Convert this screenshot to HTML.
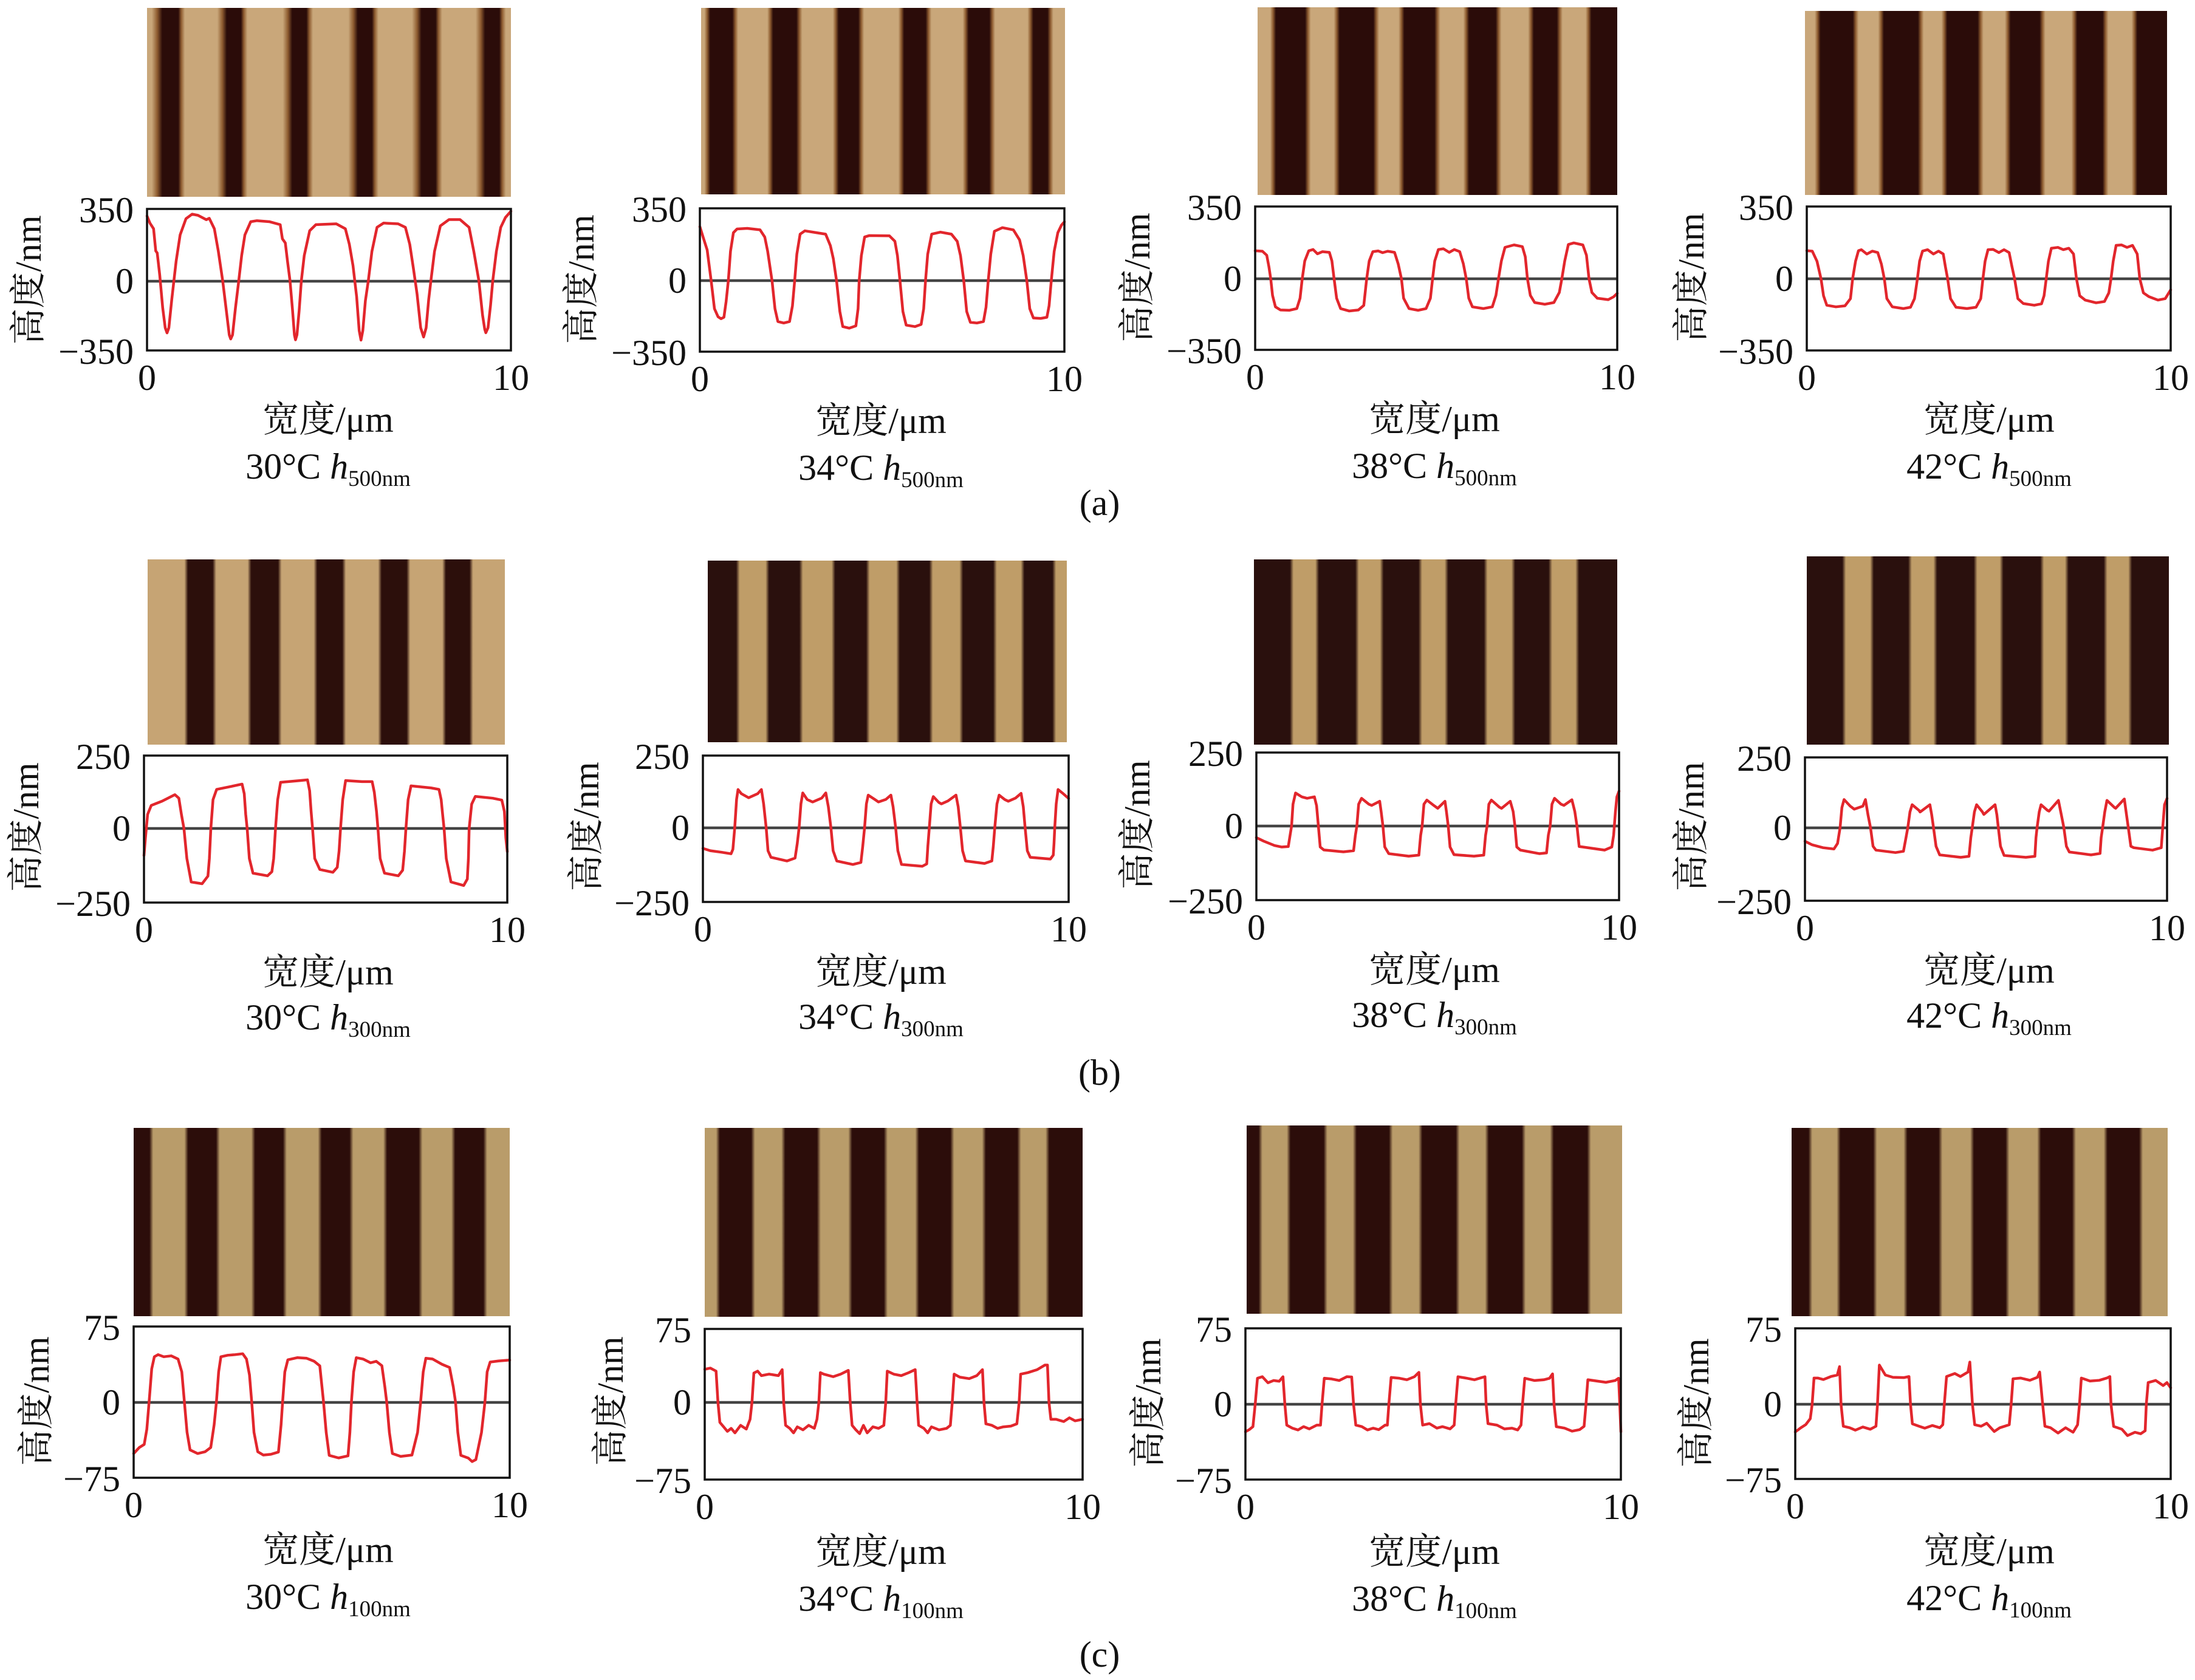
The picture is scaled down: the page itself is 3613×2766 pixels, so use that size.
<!DOCTYPE html>
<html><head><meta charset="utf-8">
<style>
html,body{margin:0;padding:0;background:#fff;overflow:hidden}
svg{display:block}
text{font-family:"Liberation Serif","Noto Serif CJK SC",serif;font-size:60px;fill:#111}
.cv{fill:none;stroke:#e2262c;stroke-width:4.5;vector-effect:non-scaling-stroke;stroke-linejoin:round;stroke-linecap:round}
.z{stroke:#444;stroke-width:4.5}
.bx{fill:none;stroke:#111;stroke-width:3.5}
.La{stop-color:#c9a77a}.Da{stop-color:#2b0c09}.Ea{stop-color:#8e5c30}
.Lb{stop-color:#c6a474}.Db{stop-color:#2c0f0b}
.Lb2{stop-color:#bf9d68}.Db2{stop-color:#2a100d}
.Lc{stop-color:#b99c6a}.Dc{stop-color:#2c0d0a}
</style></head>
<body>
<svg xmlns="http://www.w3.org/2000/svg" width="3613" height="2766" viewBox="0 0 3613 2766">
<defs>
<linearGradient id="ga1" x1="0" x2="1" y1="0" y2="0">
<stop offset="0" class="La"/><stop offset=".013" class="La"/><stop offset=".028" class="Ea"/><stop offset=".042" class="Da"/><stop offset=".086" class="Da"/><stop offset=".094" class="Ea"/><stop offset=".104" class="La"/>
<stop offset=".193" class="La"/><stop offset=".207" class="Ea"/><stop offset=".219" class="Da"/><stop offset=".258" class="Da"/><stop offset=".266" class="Ea"/><stop offset=".276" class="La"/>
<stop offset=".373" class="La"/><stop offset=".387" class="Ea"/><stop offset=".399" class="Da"/><stop offset=".438" class="Da"/><stop offset=".446" class="Ea"/><stop offset=".456" class="La"/>
<stop offset=".553" class="La"/><stop offset=".567" class="Ea"/><stop offset=".579" class="Da"/><stop offset=".618" class="Da"/><stop offset=".626" class="Ea"/><stop offset=".636" class="La"/>
<stop offset=".728" class="La"/><stop offset=".742" class="Ea"/><stop offset=".754" class="Da"/><stop offset=".793" class="Da"/><stop offset=".801" class="Ea"/><stop offset=".811" class="La"/>
<stop offset=".903" class="La"/><stop offset=".917" class="Ea"/><stop offset=".929" class="Da"/><stop offset=".968" class="Da"/><stop offset=".976" class="Ea"/><stop offset=".986" class="La"/><stop offset="1" class="La"/>
</linearGradient>
<linearGradient id="ga2" x1="0" x2="1" y1="0" y2="0">
<stop offset="0" class="La"/><stop offset=".009" class="La"/><stop offset=".017" class="Ea"/><stop offset=".025" class="Da"/><stop offset=".086" class="Da"/><stop offset=".094" class="Ea"/><stop offset=".102" class="La"/><stop offset=".182" class="La"/><stop offset=".19" class="Ea"/><stop offset=".198" class="Da"/><stop offset=".262" class="Da"/><stop offset=".27" class="Ea"/><stop offset=".278" class="La"/><stop offset=".362" class="La"/><stop offset=".37" class="Ea"/><stop offset=".378" class="Da"/><stop offset=".432" class="Da"/><stop offset=".44" class="Ea"/><stop offset=".448" class="La"/><stop offset=".542" class="La"/><stop offset=".55" class="Ea"/><stop offset=".558" class="Da"/><stop offset=".617" class="Da"/><stop offset=".625" class="Ea"/><stop offset=".633" class="La"/><stop offset=".719" class="La"/><stop offset=".727" class="Ea"/><stop offset=".735" class="Da"/><stop offset=".792" class="Da"/><stop offset=".8" class="Ea"/><stop offset=".808" class="La"/><stop offset=".897" class="La"/><stop offset=".905" class="Ea"/><stop offset=".913" class="Da"/><stop offset=".952" class="Da"/><stop offset=".96" class="Ea"/><stop offset=".968" class="La"/><stop offset="1" class="La"/>
</linearGradient>
<linearGradient id="ga3" x1="0" x2="1" y1="0" y2="0">
<stop offset="0" class="La"/><stop offset=".035" class="La"/><stop offset=".043" class="Ea"/><stop offset=".051" class="Da"/><stop offset=".132" class="Da"/><stop offset=".14" class="Ea"/><stop offset=".148" class="La"/><stop offset=".212" class="La"/><stop offset=".22" class="Ea"/><stop offset=".228" class="Da"/><stop offset=".322" class="Da"/><stop offset=".33" class="Ea"/><stop offset=".338" class="La"/><stop offset=".392" class="La"/><stop offset=".4" class="Ea"/><stop offset=".408" class="Da"/><stop offset=".492" class="Da"/><stop offset=".5" class="Ea"/><stop offset=".508" class="La"/><stop offset=".572" class="La"/><stop offset=".58" class="Ea"/><stop offset=".588" class="Da"/><stop offset=".662" class="Da"/><stop offset=".67" class="Ea"/><stop offset=".678" class="La"/><stop offset=".752" class="La"/><stop offset=".76" class="Ea"/><stop offset=".768" class="Da"/><stop offset=".832" class="Da"/><stop offset=".84" class="Ea"/><stop offset=".848" class="La"/><stop offset=".912" class="La"/><stop offset=".92" class="Ea"/><stop offset=".928" class="Da"/><stop offset="1" class="Da"/>
</linearGradient>
<linearGradient id="ga4" x1="0" x2="1" y1="0" y2="0">
<stop offset="0" class="La"/><stop offset=".027" class="La"/><stop offset=".035" class="Ea"/><stop offset=".043" class="Da"/><stop offset=".132" class="Da"/><stop offset=".14" class="Ea"/><stop offset=".148" class="La"/><stop offset=".202" class="La"/><stop offset=".21" class="Ea"/><stop offset=".218" class="Da"/><stop offset=".312" class="Da"/><stop offset=".32" class="Ea"/><stop offset=".328" class="La"/><stop offset=".377" class="La"/><stop offset=".385" class="Ea"/><stop offset=".393" class="Da"/><stop offset=".477" class="Da"/><stop offset=".485" class="Ea"/><stop offset=".493" class="La"/><stop offset=".552" class="La"/><stop offset=".56" class="Ea"/><stop offset=".568" class="Da"/><stop offset=".648" class="Da"/><stop offset=".656" class="Ea"/><stop offset=".664" class="La"/><stop offset=".736" class="La"/><stop offset=".744" class="Ea"/><stop offset=".752" class="Da"/><stop offset=".822" class="Da"/><stop offset=".83" class="Ea"/><stop offset=".838" class="La"/><stop offset=".902" class="La"/><stop offset=".91" class="Ea"/><stop offset=".918" class="Da"/><stop offset="1" class="Da"/>
</linearGradient>
<linearGradient id="gb1" x1="0" x2="1" y1="0" y2="0">
<stop offset="0" class="Lb"/><stop offset=".103" class="Lb"/><stop offset=".113" class="Db"/><stop offset=".182" class="Db"/><stop offset=".192" class="Lb"/><stop offset=".28" class="Lb"/><stop offset=".29" class="Db"/><stop offset=".365" class="Db"/><stop offset=".375" class="Lb"/><stop offset=".465" class="Lb"/><stop offset=".475" class="Db"/><stop offset=".545" class="Db"/><stop offset=".555" class="Lb"/><stop offset=".645" class="Lb"/><stop offset=".655" class="Db"/><stop offset=".725" class="Db"/><stop offset=".735" class="Lb"/><stop offset=".825" class="Lb"/><stop offset=".835" class="Db"/><stop offset=".901" class="Db"/><stop offset=".911" class="Lb"/><stop offset="1" class="Lb"/>
</linearGradient>
<linearGradient id="gb2" x1="0" x2="1" y1="0" y2="0">
<stop offset="0" class="Db2"/><stop offset=".079" class="Db2"/><stop offset=".089" class="Lb2"/><stop offset=".161" class="Lb2"/><stop offset=".171" class="Db2"/><stop offset=".255" class="Db2"/><stop offset=".265" class="Lb2"/><stop offset=".345" class="Lb2"/><stop offset=".355" class="Db2"/><stop offset=".441" class="Db2"/><stop offset=".451" class="Lb2"/><stop offset=".525" class="Lb2"/><stop offset=".535" class="Db2"/><stop offset=".617" class="Db2"/><stop offset=".627" class="Lb2"/><stop offset=".701" class="Lb2"/><stop offset=".711" class="Db2"/><stop offset=".795" class="Db2"/><stop offset=".805" class="Lb2"/><stop offset=".872" class="Lb2"/><stop offset=".882" class="Db2"/><stop offset=".96" class="Db2"/><stop offset=".97" class="Lb2"/><stop offset="1" class="Lb2"/>
</linearGradient>
<linearGradient id="gb3" x1="0" x2="1" y1="0" y2="0">
<stop offset="0" class="Db2"/><stop offset=".099" class="Db2"/><stop offset=".109" class="Lb2"/><stop offset=".169" class="Lb2"/><stop offset=".179" class="Db2"/><stop offset=".279" class="Db2"/><stop offset=".289" class="Lb2"/><stop offset=".347" class="Lb2"/><stop offset=".357" class="Db2"/><stop offset=".453" class="Db2"/><stop offset=".463" class="Lb2"/><stop offset=".525" class="Lb2"/><stop offset=".535" class="Db2"/><stop offset=".633" class="Db2"/><stop offset=".643" class="Lb2"/><stop offset=".709" class="Lb2"/><stop offset=".719" class="Db2"/><stop offset=".811" class="Db2"/><stop offset=".821" class="Lb2"/><stop offset=".885" class="Lb2"/><stop offset=".895" class="Db2"/><stop offset="1" class="Db2"/>
</linearGradient>
<linearGradient id="gb4" x1="0" x2="1" y1="0" y2="0">
<stop offset="0" class="Db2"/><stop offset=".098" class="Db2"/><stop offset=".108" class="Lb2"/><stop offset=".175" class="Lb2"/><stop offset=".185" class="Db2"/><stop offset=".28" class="Db2"/><stop offset=".29" class="Lb2"/><stop offset=".35" class="Lb2"/><stop offset=".36" class="Db2"/><stop offset=".461" class="Db2"/><stop offset=".471" class="Lb2"/><stop offset=".533" class="Lb2"/><stop offset=".543" class="Db2"/><stop offset=".645" class="Db2"/><stop offset=".655" class="Lb2"/><stop offset=".713" class="Lb2"/><stop offset=".723" class="Db2"/><stop offset=".82" class="Db2"/><stop offset=".83" class="Lb2"/><stop offset=".888" class="Lb2"/><stop offset=".898" class="Db2"/><stop offset="1" class="Db2"/>
</linearGradient>
<linearGradient id="gc1" x1="0" x2="1" y1="0" y2="0">
<stop offset="0" class="Dc"/><stop offset=".042" class="Dc"/><stop offset=".052" class="Lc"/><stop offset=".135" class="Lc"/><stop offset=".145" class="Dc"/><stop offset=".219" class="Dc"/><stop offset=".229" class="Lc"/><stop offset=".313" class="Lc"/><stop offset=".323" class="Dc"/><stop offset=".397" class="Dc"/><stop offset=".407" class="Lc"/><stop offset=".49" class="Lc"/><stop offset=".5" class="Dc"/><stop offset=".574" class="Dc"/><stop offset=".584" class="Lc"/><stop offset=".664" class="Lc"/><stop offset=".674" class="Dc"/><stop offset=".758" class="Dc"/><stop offset=".768" class="Lc"/><stop offset=".845" class="Lc"/><stop offset=".855" class="Dc"/><stop offset=".93" class="Dc"/><stop offset=".94" class="Lc"/><stop offset="1" class="Lc"/>
</linearGradient>
<linearGradient id="gc2" x1="0" x2="1" y1="0" y2="0">
<stop offset="0" class="Lc"/><stop offset=".03" class="Lc"/><stop offset=".04" class="Dc"/><stop offset=".123" class="Dc"/><stop offset=".133" class="Lc"/><stop offset=".203" class="Lc"/><stop offset=".213" class="Dc"/><stop offset=".297" class="Dc"/><stop offset=".307" class="Lc"/><stop offset=".38" class="Lc"/><stop offset=".39" class="Dc"/><stop offset=".474" class="Dc"/><stop offset=".484" class="Lc"/><stop offset=".557" class="Lc"/><stop offset=".567" class="Dc"/><stop offset=".65" class="Dc"/><stop offset=".66" class="Lc"/><stop offset=".734" class="Lc"/><stop offset=".744" class="Dc"/><stop offset=".827" class="Dc"/><stop offset=".837" class="Lc"/><stop offset=".902" class="Lc"/><stop offset=".912" class="Dc"/><stop offset="1" class="Dc"/>
</linearGradient>
<linearGradient id="gc3" x1="0" x2="1" y1="0" y2="0">
<stop offset="0" class="Dc"/><stop offset=".032" class="Dc"/><stop offset=".042" class="Lc"/><stop offset=".107" class="Lc"/><stop offset=".117" class="Dc"/><stop offset=".205" class="Dc"/><stop offset=".215" class="Lc"/><stop offset=".283" class="Lc"/><stop offset=".293" class="Dc"/><stop offset=".379" class="Dc"/><stop offset=".389" class="Lc"/><stop offset=".458" class="Lc"/><stop offset=".468" class="Dc"/><stop offset=".557" class="Dc"/><stop offset=".567" class="Lc"/><stop offset=".635" class="Lc"/><stop offset=".645" class="Dc"/><stop offset=".733" class="Dc"/><stop offset=".743" class="Lc"/><stop offset=".808" class="Lc"/><stop offset=".818" class="Dc"/><stop offset=".907" class="Dc"/><stop offset=".917" class="Lc"/><stop offset="1" class="Lc"/>
</linearGradient>
<linearGradient id="gc4" x1="0" x2="1" y1="0" y2="0">
<stop offset="0" class="Dc"/><stop offset=".045" class="Dc"/><stop offset=".055" class="Lc"/><stop offset=".12" class="Lc"/><stop offset=".13" class="Dc"/><stop offset=".217" class="Dc"/><stop offset=".227" class="Lc"/><stop offset=".298" class="Lc"/><stop offset=".308" class="Dc"/><stop offset=".391" class="Dc"/><stop offset=".401" class="Lc"/><stop offset=".475" class="Lc"/><stop offset=".485" class="Dc"/><stop offset=".569" class="Dc"/><stop offset=".579" class="Lc"/><stop offset=".653" class="Lc"/><stop offset=".663" class="Dc"/><stop offset=".746" class="Dc"/><stop offset=".756" class="Lc"/><stop offset=".83" class="Lc"/><stop offset=".84" class="Dc"/><stop offset=".924" class="Dc"/><stop offset=".934" class="Lc"/><stop offset="1" class="Lc"/>
</linearGradient>
</defs>

<!-- ================= ROW A ================= -->
<rect x="242" y="13" width="599" height="311" fill="url(#ga1)"/>
<line class="z" x1="242" x2="841" y1="463" y2="463"/>
<path class="cv" transform="translate(242,344) scale(0.599,0.233)" d="M0,50 L8,100 L18,140 L24,297 L28,311 L35,469 L43,697 L50,840 L55,876 L60,840 L68,640 L80,369 L91,183 L107,69 L124,37 L140,45 L152,61 L163,76 L171,66 L185,140 L196,300 L208,509 L218,720 L226,890 L230,919 L235,890 L243,700 L252,509 L260,330 L269,183 L285,90 L302,83 L336,90 L366,111 L372,211 L380,240 L386,369 L393,509 L400,720 L405,890 L408,925 L412,890 L418,720 L424,509 L432,330 L447,154 L464,111 L520,105 L545,140 L556,250 L566,400 L576,620 L583,860 L588,927 L593,860 L600,650 L608,509 L618,300 L632,130 L650,100 L690,105 L710,130 L722,250 L732,420 L742,600 L752,840 L760,905 L767,840 L774,640 L780,509 L790,300 L806,120 L830,75 L860,75 L885,130 L898,300 L912,509 L922,750 L928,850 L931,875 L937,840 L944,680 L950,509 L960,300 L972,130 L985,60 L1000,16"/>
<rect class="bx" x="242" y="344" width="599" height="233"/>
<text x="220" y="366" text-anchor="end">350</text>
<text x="220" y="483" text-anchor="end">0</text>
<text x="220" y="599" text-anchor="end">−350</text>
<text x="242" y="642" text-anchor="middle">0</text>
<text x="841" y="642" text-anchor="middle">10</text>
<text x="540" y="711" text-anchor="middle">宽度/μm</text>
<text x="540" y="788" text-anchor="middle">30°C <tspan font-style="italic">h</tspan><tspan font-size="37" dy="12">500nm</tspan></text>
<text transform="translate(47,461) rotate(-90)" text-anchor="middle" dominant-baseline="central">高度/nm</text>

<rect x="1154" y="13" width="599" height="307" fill="url(#ga2)"/>
<line class="z" x1="1152" x2="1752" y1="462" y2="462"/>
<path class="cv" transform="translate(1152,343) scale(0.6,0.236)" d="M0,128 L10,210 L20,290 L31,506 L40,700 L50,757 L58,770 L66,760 L72,650 L78,506 L84,300 L92,170 L102,144 L130,140 L165,150 L178,200 L186,300 L198,506 L206,700 L214,790 L230,800 L246,790 L254,680 L260,506 L266,320 L275,180 L288,157 L320,170 L345,180 L358,260 L366,350 L375,506 L384,720 L392,825 L410,836 L428,820 L434,700 L437,506 L443,330 L452,200 L465,190 L520,192 L535,230 L542,330 L549,506 L557,720 L566,815 L590,825 L607,810 L614,700 L619,506 L625,320 L636,180 L660,166 L690,180 L706,230 L715,330 L724,506 L732,720 L742,795 L760,800 L778,790 L785,690 L791,506 L798,320 L808,160 L830,135 L860,150 L877,220 L887,330 L897,506 L905,700 L915,765 L935,768 L952,760 L958,680 L964,506 L972,300 L982,170 L992,117 L1000,94"/>
<rect class="bx" x="1152" y="343" width="600" height="236"/>
<text x="1130" y="365" text-anchor="end">350</text>
<text x="1130" y="482" text-anchor="end">0</text>
<text x="1130" y="601" text-anchor="end">−350</text>
<text x="1152" y="644" text-anchor="middle">0</text>
<text x="1752" y="644" text-anchor="middle">10</text>
<text x="1450" y="713" text-anchor="middle">宽度/μm</text>
<text x="1450" y="790" text-anchor="middle">34°C <tspan font-style="italic">h</tspan><tspan font-size="37" dy="12">500nm</tspan></text>
<text transform="translate(957,460) rotate(-90)" text-anchor="middle" dominant-baseline="central">高度/nm</text>

<rect x="2070" y="12" width="592" height="309" fill="url(#ga3)"/>
<line class="z" x1="2066" x2="2662" y1="459" y2="459"/>
<path class="cv" transform="translate(2066,340) scale(0.596,0.236)" d="M0,309 L20,312 L32,340 L38,420 L43,504 L48,620 L56,700 L70,722 L95,724 L115,712 L124,640 L130,504 L137,380 L148,309 L160,300 L172,330 L186,315 L205,320 L212,380 L218,504 L225,640 L236,712 L260,729 L285,722 L300,690 L308,504 L315,380 L325,315 L340,310 L352,322 L366,312 L385,320 L395,400 L404,504 L410,640 L425,712 L450,724 L472,712 L484,640 L490,504 L496,380 L506,300 L520,295 L536,320 L550,300 L565,315 L575,400 L583,504 L590,640 L600,700 L630,712 L655,700 L665,620 L672,504 L680,380 L690,285 L715,268 L738,280 L746,350 L752,504 L760,620 L772,670 L800,682 L825,670 L840,600 L847,504 L855,380 L865,265 L880,254 L905,268 L915,340 L922,504 L930,600 L945,640 L975,650 L990,630 L1000,606"/>
<rect class="bx" x="2066" y="340" width="596" height="236"/>
<text x="2044" y="362" text-anchor="end">350</text>
<text x="2044" y="479" text-anchor="end">0</text>
<text x="2044" y="598" text-anchor="end">−350</text>
<text x="2066" y="641" text-anchor="middle">0</text>
<text x="2662" y="641" text-anchor="middle">10</text>
<text x="2361" y="710" text-anchor="middle">宽度/μm</text>
<text x="2361" y="787" text-anchor="middle">38°C <tspan font-style="italic">h</tspan><tspan font-size="37" dy="12">500nm</tspan></text>
<text transform="translate(1872,457) rotate(-90)" text-anchor="middle" dominant-baseline="central">高度/nm</text>

<rect x="2971" y="18" width="596" height="303" fill="url(#ga4)"/>
<line class="z" x1="2974" x2="3573" y1="459" y2="459"/>
<path class="cv" transform="translate(2974,340) scale(0.599,0.237)" d="M0,307 L15,310 L28,380 L39,501 L46,620 L55,686 L80,697 L105,690 L120,640 L126,501 L134,380 L142,307 L150,300 L165,330 L180,310 L195,320 L205,400 L213,501 L220,640 L235,697 L265,709 L285,700 L296,640 L304,501 L310,380 L318,310 L332,300 L348,330 L362,310 L375,330 L381,420 L387,501 L395,640 L410,700 L440,709 L465,700 L478,640 L484,501 L490,380 L498,300 L512,298 L528,320 L542,300 L556,320 L564,420 L571,501 L580,640 L595,674 L625,686 L645,676 L652,620 L658,501 L664,380 L672,290 L690,284 L705,300 L720,290 L733,330 L741,501 L750,620 L765,650 L795,669 L818,660 L830,600 L836,501 L842,380 L850,270 L865,267 L880,284 L895,270 L908,330 L915,501 L925,600 L940,626 L965,650 L985,640 L1000,579"/>
<rect class="bx" x="2974" y="340" width="599" height="237"/>
<text x="2952" y="362" text-anchor="end">350</text>
<text x="2952" y="479" text-anchor="end">0</text>
<text x="2952" y="599" text-anchor="end">−350</text>
<text x="2974" y="642" text-anchor="middle">0</text>
<text x="3573" y="642" text-anchor="middle">10</text>
<text x="3274" y="711" text-anchor="middle">宽度/μm</text>
<text x="3274" y="788" text-anchor="middle">42°C <tspan font-style="italic">h</tspan><tspan font-size="37" dy="12">500nm</tspan></text>
<text transform="translate(2784,457) rotate(-90)" text-anchor="middle" dominant-baseline="central">高度/nm</text>

<text x="1810" y="848" text-anchor="middle">(a)</text>

<!-- ================= ROW B ================= -->
<rect x="243" y="921" width="588" height="305" fill="url(#gb1)"/>
<line class="z" x1="237" x2="835" y1="1364" y2="1364"/>
<path class="cv" transform="translate(237,1244) scale(0.598,0.242)" d="M0,680 L4,560 L10,400 L20,339 L50,310 L85,266 L96,290 L103,400 L110,496 L118,700 L130,860 L160,872 L176,820 L180,700 L184,496 L190,300 L200,230 L240,210 L270,194 L276,260 L280,400 L284,496 L290,700 L300,800 L340,818 L352,790 L357,700 L362,496 L368,300 L376,182 L430,170 L450,165 L456,240 L460,380 L464,496 L470,700 L484,775 L520,794 L532,760 L537,650 L541,496 L547,300 L555,170 L600,177 L628,177 L634,250 L640,380 L644,496 L650,700 L662,800 L700,818 L712,780 L717,650 L721,496 L727,300 L735,206 L790,220 L812,230 L818,300 L822,400 L826,496 L832,700 L845,860 L880,884 L890,840 L893,700 L895,496 L902,330 L912,278 L960,290 L985,303 L992,380 L996,560 L1000,654"/>
<rect class="bx" x="237" y="1244" width="598" height="242"/>
<text x="215" y="1266" text-anchor="end">250</text>
<text x="215" y="1384" text-anchor="end">0</text>
<text x="215" y="1508" text-anchor="end">−250</text>
<text x="237" y="1551" text-anchor="middle">0</text>
<text x="835" y="1551" text-anchor="middle">10</text>
<text x="540" y="1621" text-anchor="middle">宽度/μm</text>
<text x="540" y="1695" text-anchor="middle">30°C <tspan font-style="italic">h</tspan><tspan font-size="37" dy="12">300nm</tspan></text>
<text transform="translate(43,1362) rotate(-90)" text-anchor="middle" dominant-baseline="central">高度/nm</text>

<rect x="1165" y="923" width="591" height="299" fill="url(#gb2)"/>
<line class="z" x1="1157" x2="1759" y1="1363" y2="1363"/>
<path class="cv" transform="translate(1157,1244) scale(0.602,0.241)" d="M0,634 L20,650 L50,660 L77,671 L82,640 L87,493 L92,300 L96,232 L105,260 L125,288 L150,260 L160,232 L166,330 L173,493 L178,650 L186,695 L230,720 L252,700 L258,600 L263,493 L268,330 L273,255 L285,300 L300,317 L325,290 L336,255 L343,350 L350,493 L356,650 L366,720 L410,744 L432,730 L437,620 L442,493 L447,330 L452,270 L470,300 L480,317 L500,300 L514,270 L520,350 L527,493 L533,650 L543,744 L600,756 L612,740 L615,620 L619,493 L624,330 L630,280 L645,320 L652,330 L670,310 L692,270 L698,350 L704,493 L710,650 L718,720 L770,737 L790,720 L794,620 L798,493 L804,330 L810,270 L825,300 L835,312 L855,290 L870,258 L876,350 L881,493 L887,650 L895,695 L950,707 L958,680 L960,600 L962,493 L966,330 L971,232 L985,260 L1000,293"/>
<rect class="bx" x="1157" y="1244" width="602" height="241"/>
<text x="1135" y="1266" text-anchor="end">250</text>
<text x="1135" y="1383" text-anchor="end">0</text>
<text x="1135" y="1507" text-anchor="end">−250</text>
<text x="1157" y="1550" text-anchor="middle">0</text>
<text x="1759" y="1550" text-anchor="middle">10</text>
<text x="1450" y="1620" text-anchor="middle">宽度/μm</text>
<text x="1450" y="1694" text-anchor="middle">34°C <tspan font-style="italic">h</tspan><tspan font-size="37" dy="12">300nm</tspan></text>
<text transform="translate(965,1361) rotate(-90)" text-anchor="middle" dominant-baseline="central">高度/nm</text>

<rect x="2064" y="921" width="598" height="305" fill="url(#gb3)"/>
<line class="z" x1="2068" x2="2665" y1="1360" y2="1360"/>
<path class="cv" transform="translate(2068,1239) scale(0.597,0.243)" d="M0,576 L20,600 L50,630 L70,640 L88,637 L93,560 L97,499 L101,350 L108,274 L125,300 L140,310 L160,300 L166,360 L171,499 L176,640 L186,660 L240,673 L268,665 L273,560 L277,499 L282,350 L290,310 L310,350 L318,358 L340,330 L344,400 L349,499 L354,640 L365,685 L420,702 L448,695 L453,560 L457,499 L462,350 L470,322 L490,360 L500,378 L520,330 L524,400 L529,499 L534,640 L545,692 L600,702 L627,695 L632,560 L636,499 L641,350 L648,322 L670,370 L676,378 L700,330 L708,400 L713,499 L718,640 L728,661 L780,685 L800,680 L805,560 L810,499 L815,350 L822,310 L840,350 L848,358 L870,320 L878,400 L884,499 L890,637 L900,640 L960,661 L980,640 L985,560 L990,400 L994,300 L1000,261"/>
<rect class="bx" x="2068" y="1239" width="597" height="243"/>
<text x="2046" y="1261" text-anchor="end">250</text>
<text x="2046" y="1380" text-anchor="end">0</text>
<text x="2046" y="1504" text-anchor="end">−250</text>
<text x="2068" y="1547" text-anchor="middle">0</text>
<text x="2665" y="1547" text-anchor="middle">10</text>
<text x="2361" y="1617" text-anchor="middle">宽度/μm</text>
<text x="2361" y="1691" text-anchor="middle">38°C <tspan font-style="italic">h</tspan><tspan font-size="37" dy="12">300nm</tspan></text>
<text transform="translate(1872,1358) rotate(-90)" text-anchor="middle" dominant-baseline="central">高度/nm</text>

<rect x="2974" y="916" width="596" height="310" fill="url(#gb4)"/>
<line class="z" x1="2971" x2="3567" y1="1363" y2="1363"/>
<path class="cv" transform="translate(2971,1247) scale(0.596,0.236)" d="M0,585 L20,610 L50,630 L80,639 L90,600 L97,490 L102,350 L108,294 L125,340 L136,361 L160,340 L167,294 L174,400 L181,490 L188,620 L196,647 L250,664 L272,655 L279,560 L284,490 L290,380 L296,330 L315,370 L318,381 L345,330 L350,400 L355,490 L362,620 L372,680 L430,697 L453,690 L458,560 L462,490 L468,380 L474,330 L490,380 L494,398 L525,330 L530,400 L534,490 L540,620 L550,684 L610,697 L635,690 L638,560 L641,490 L647,380 L652,330 L670,370 L674,375 L700,300 L708,400 L715,490 L722,620 L730,660 L790,680 L815,670 L818,560 L822,490 L828,380 L834,300 L855,350 L858,355 L882,290 L888,400 L893,490 L900,620 L908,630 L960,647 L984,630 L988,490 L993,330 L1000,286"/>
<rect class="bx" x="2971" y="1247" width="596" height="236"/>
<text x="2949" y="1269" text-anchor="end">250</text>
<text x="2949" y="1383" text-anchor="end">0</text>
<text x="2949" y="1505" text-anchor="end">−250</text>
<text x="2971" y="1548" text-anchor="middle">0</text>
<text x="3567" y="1548" text-anchor="middle">10</text>
<text x="3274" y="1618" text-anchor="middle">宽度/μm</text>
<text x="3274" y="1692" text-anchor="middle">42°C <tspan font-style="italic">h</tspan><tspan font-size="37" dy="12">300nm</tspan></text>
<text transform="translate(2784,1361) rotate(-90)" text-anchor="middle" dominant-baseline="central">高度/nm</text>

<text x="1810" y="1786" text-anchor="middle">(b)</text>

<!-- ================= ROW C ================= -->
<rect x="220" y="1857" width="619" height="310" fill="url(#gc1)"/>
<line class="z" x1="220" x2="839" y1="2309" y2="2309"/>
<path class="cv" transform="translate(220,2184) scale(0.619,0.249)" d="M0,840 L15,800 L28,780 L35,680 L41,501 L48,280 L55,200 L65,186 L80,200 L100,194 L118,215 L128,300 L135,501 L142,700 L150,816 L170,840 L190,828 L205,800 L214,650 L220,501 L226,300 L232,200 L250,190 L270,186 L290,180 L300,215 L308,320 L314,501 L320,700 L330,828 L345,850 L365,845 L385,830 L392,650 L396,501 L402,300 L410,220 L435,206 L460,210 L480,230 L495,260 L505,501 L512,700 L520,852 L545,869 L570,855 L575,700 L579,501 L585,300 L592,206 L610,215 L630,240 L645,230 L660,259 L668,400 L673,501 L680,700 L688,840 L710,859 L740,850 L755,700 L763,501 L770,300 L777,210 L795,215 L820,250 L840,271 L850,400 L856,501 L862,700 L870,852 L890,870 L900,893 L910,880 L925,700 L934,501 L940,300 L948,235 L970,228 L1000,222"/>
<rect class="bx" x="220" y="2184" width="619" height="249"/>
<text x="198" y="2206" text-anchor="end">75</text>
<text x="198" y="2329" text-anchor="end">0</text>
<text x="198" y="2455" text-anchor="end">−75</text>
<text x="220" y="2498" text-anchor="middle">0</text>
<text x="839" y="2498" text-anchor="middle">10</text>
<text x="540" y="2572" text-anchor="middle">宽度/μm</text>
<text x="540" y="2649" text-anchor="middle">30°C <tspan font-style="italic">h</tspan><tspan font-size="37" dy="12">100nm</tspan></text>
<text transform="translate(60,2307) rotate(-90)" text-anchor="middle" dominant-baseline="central">高度/nm</text>

<rect x="1160" y="1857" width="622" height="311" fill="url(#gc2)"/>
<line class="z" x1="1160" x2="1782" y1="2309" y2="2309"/>
<path class="cv" transform="translate(1160,2188) scale(0.622,0.248)" d="M0,268 L15,260 L30,280 L35,488 L40,620 L50,650 L60,680 L70,660 L80,690 L95,640 L110,665 L120,600 L125,488 L130,293 L140,280 L150,310 L170,300 L195,310 L205,270 L209,488 L214,640 L225,660 L235,690 L245,650 L260,670 L275,640 L290,660 L297,600 L302,488 L306,290 L315,300 L340,317 L360,300 L380,275 L385,488 L390,640 L400,670 L410,695 L420,640 L430,690 L445,650 L460,660 L474,640 L479,488 L483,280 L500,300 L520,310 L540,290 L557,270 L562,488 L566,640 L580,660 L590,690 L600,650 L620,670 L640,660 L650,640 L655,488 L660,300 L675,320 L700,330 L720,310 L735,270 L739,488 L744,630 L760,640 L775,660 L790,650 L810,645 L826,630 L832,488 L836,300 L855,290 L880,270 L900,240 L907,240 L911,488 L916,600 L930,600 L950,615 L965,590 L980,610 L1000,600"/>
<rect class="bx" x="1160" y="2188" width="622" height="248"/>
<text x="1138" y="2210" text-anchor="end">75</text>
<text x="1138" y="2329" text-anchor="end">0</text>
<text x="1138" y="2458" text-anchor="end">−75</text>
<text x="1160" y="2501" text-anchor="middle">0</text>
<text x="1782" y="2501" text-anchor="middle">10</text>
<text x="1450" y="2575" text-anchor="middle">宽度/μm</text>
<text x="1450" y="2652" text-anchor="middle">34°C <tspan font-style="italic">h</tspan><tspan font-size="37" dy="12">100nm</tspan></text>
<text transform="translate(1005,2307) rotate(-90)" text-anchor="middle" dominant-baseline="central">高度/nm</text>

<rect x="2052" y="1853" width="618" height="310" fill="url(#gc3)"/>
<line class="z" x1="2050" x2="2668" y1="2312" y2="2312"/>
<path class="cv" transform="translate(2050,2187) scale(0.618,0.249)" d="M0,684 L10,670 L20,650 L26,502 L32,330 L45,320 L60,360 L75,345 L90,350 L100,320 L105,502 L110,640 L125,660 L140,672 L155,650 L170,665 L190,640 L200,640 L204,502 L210,330 L230,335 L250,345 L270,320 L283,322 L288,502 L294,640 L310,650 L325,672 L340,660 L355,670 L372,640 L378,640 L382,502 L388,325 L410,330 L430,340 L450,320 L462,291 L466,502 L472,640 L490,630 L510,660 L525,650 L545,665 L556,640 L560,502 L566,320 L590,330 L610,340 L630,325 L638,320 L641,502 L646,630 L670,640 L690,665 L710,660 L725,672 L734,640 L738,502 L744,330 L770,345 L795,340 L810,330 L818,301 L822,502 L828,650 L850,660 L870,680 L890,670 L902,648 L907,502 L912,340 L940,350 L960,357 L985,345 L994,330 L997,500 L1000,684"/>
<rect class="bx" x="2050" y="2187" width="618" height="249"/>
<text x="2028" y="2209" text-anchor="end">75</text>
<text x="2028" y="2332" text-anchor="end">0</text>
<text x="2028" y="2458" text-anchor="end">−75</text>
<text x="2050" y="2501" text-anchor="middle">0</text>
<text x="2668" y="2501" text-anchor="middle">10</text>
<text x="2361" y="2575" text-anchor="middle">宽度/μm</text>
<text x="2361" y="2652" text-anchor="middle">38°C <tspan font-style="italic">h</tspan><tspan font-size="37" dy="12">100nm</tspan></text>
<text transform="translate(1890,2310) rotate(-90)" text-anchor="middle" dominant-baseline="central">高度/nm</text>

<rect x="2949" y="1857" width="619" height="310" fill="url(#gc4)"/>
<line class="z" x1="2955" x2="3573" y1="2312" y2="2312"/>
<path class="cv" transform="translate(2955,2187) scale(0.618,0.248)" d="M0,688 L15,660 L28,639 L40,600 L45,505 L50,330 L60,330 L75,340 L95,320 L112,310 L118,254 L122,505 L128,650 L145,660 L160,676 L180,655 L200,670 L215,650 L219,505 L224,244 L240,310 L260,325 L290,327 L303,320 L307,505 L312,634 L330,650 L345,663 L365,645 L385,660 L393,640 L397,505 L403,320 L425,300 L440,320 L460,290 L465,224 L472,505 L478,640 L495,650 L510,630 L530,685 L545,660 L570,640 L575,505 L580,335 L600,330 L625,345 L645,325 L651,290 L659,505 L665,650 L680,660 L700,695 L720,660 L740,690 L752,640 L757,505 L762,330 L785,350 L810,345 L830,330 L838,320 L841,505 L848,651 L870,670 L885,712 L905,690 L920,700 L932,680 L935,505 L940,360 L960,346 L980,380 L990,360 L1000,395"/>
<rect class="bx" x="2955" y="2187" width="618" height="248"/>
<text x="2933" y="2209" text-anchor="end">75</text>
<text x="2933" y="2332" text-anchor="end">0</text>
<text x="2933" y="2457" text-anchor="end">−75</text>
<text x="2955" y="2500" text-anchor="middle">0</text>
<text x="3573" y="2500" text-anchor="middle">10</text>
<text x="3274" y="2574" text-anchor="middle">宽度/μm</text>
<text x="3274" y="2651" text-anchor="middle">42°C <tspan font-style="italic">h</tspan><tspan font-size="37" dy="12">100nm</tspan></text>
<text transform="translate(2792,2310) rotate(-90)" text-anchor="middle" dominant-baseline="central">高度/nm</text>

<text x="1810" y="2744" text-anchor="middle">(c)</text>
</svg>
</body></html>
